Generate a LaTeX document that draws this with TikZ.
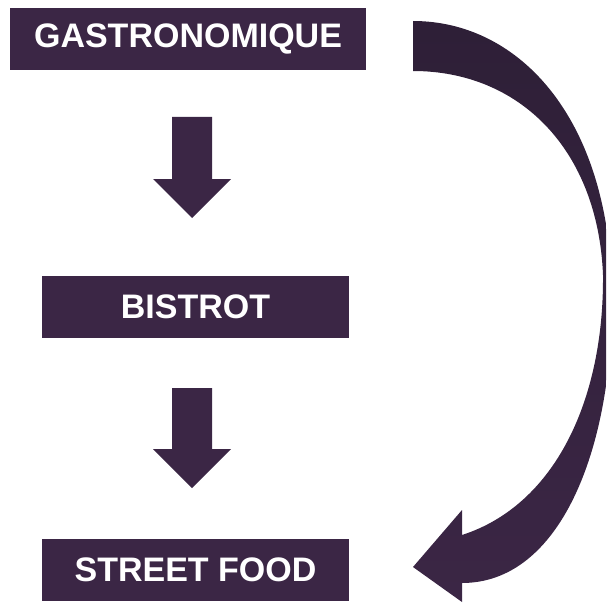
\documentclass[tikz,border=0pt]{standalone}
\usepackage{fontspec}
\setmainfont{Liberation Sans}
\definecolor{plum}{HTML}{3B2645}
\definecolor{plumdark}{HTML}{2E1F37}
\tikzset{
  labelbox/.style={fill=plum, text=white, font=\fontsize{34}{38}\selectfont\bfseries, inner sep=0pt, minimum height=62pt, anchor=center},
  downarrow/.style={fill=plum},
}
\begin{document}
\begin{tikzpicture}[x=1pt,y=-1pt]
\useasboundingbox (0,0) rectangle (606,607);
\begin{scope}
\clip (0,0) rectangle (606,607);
% boxes
\node[labelbox, minimum width=356pt] (g) at (188,39) {GASTRONOMIQUE};
\node[labelbox, minimum width=307pt] (b) at (195.5,307) {BISTROT};
\node[labelbox, minimum width=307pt] (s) at (195.5,570) {STREET FOOD};
% straight down arrows
\fill[downarrow] (172,117) -- (212,117) -- (212,179) -- (231,179) -- (192,218) -- (153,179) -- (172,179) -- cycle;
\fill[downarrow] (172,388) -- (212,388) -- (212,449) -- (231,449) -- (192,488) -- (153,449) -- (172,449) -- cycle;
% curved arrow
\shade[top color=plumdark, bottom color=plum, shading angle=0]
  (413,21)
  .. controls (520,21) and (612,120) .. (612,300)
  .. controls (612,450) and (560,583) .. (462,583)
  -- (462,602) -- (413,567) -- (462,510) -- (462,535)
  .. controls (555,505) and (604,400) .. (603,275)
  .. controls (598,150) and (520,71) .. (413,71)
  -- cycle;
\end{scope}
\end{tikzpicture}
\end{document}
